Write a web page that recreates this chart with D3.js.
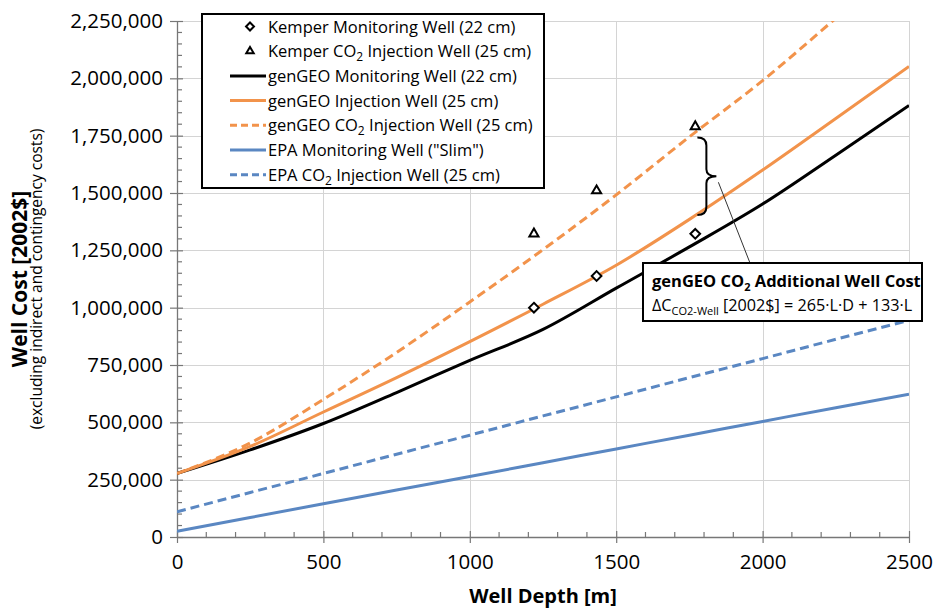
<!DOCTYPE html>
<html>
<head>
<meta charset="utf-8">
<script src="https://cdn.jsdelivr.net/npm/d3@7"></script>
<style>
  html, body { margin: 0; padding: 0; background: #fff; }
  svg { display: block; }
  text { font-family: "Open Sans", Lato, "Liberation Sans", sans-serif; fill: #000; }
</style>
</head>
<body>
<svg id="chart" width="935" height="610"></svg>
<script>
// Well depth grid [m] for the cost curves
const depthGrid = [0, 250, 500, 750, 1000, 1250, 1500, 1750, 2000, 2250, 2500];

// genGEO cost curves [2002$]
const genGeoMonitoring   = [277000, 380000, 495000, 630000, 770000, 905000, 1085000, 1265000, 1452000, 1665000, 1882000];
const genGeoInjection    = [277000, 395000, 545000, 695000, 852000, 1015000, 1185000, 1385000, 1600000, 1825000, 2052000];
const genGeoCO2Injection = [277000, 410000, 600000, 805000, 1025000, 1253000, 1492000, 1745000, 1990000, 2262000, 2540000];

// EPA cost curves [2002$]
const epaMonitoring   = [25000, 85000, 145000, 205000, 264000, 324000, 384000, 444000, 504000, 564000, 623000];
const epaCO2Injection = [110000, 194000, 277000, 361000, 444000, 528000, 611000, 695000, 778000, 862000, 945000];

// Kemper project wells
const kemperDepths     = [1219, 1433, 1770];
const kemperMonitoring = [1000000, 1138000, 1322000];
const kemperCO2        = [1322000, 1510000, 1790000];

// Axis ticks
const xTicks = [0, 500, 1000, 1500, 2000, 2500];
const yTicks = [0, 250000, 500000, 750000, 1000000, 1250000, 1500000, 1750000, 2000000, 2250000];

const orange = "#F2934B";
const blue = "#5A87C2";

const svg = d3.select("#chart");
const margin = { left: 177, right: 26, top: 21, bottom: 73 };
const W = 935, H = 610;

const x = d3.scaleLinear().domain([0, 2500]).range([margin.left, W - margin.right]);
const y = d3.scaleLinear().domain([0, 2250000]).range([H - margin.bottom, margin.top]);

svg.append("defs").append("clipPath").attr("id", "plotClip")
  .append("rect")
  .attr("x", x(0)).attr("y", y(2250000))
  .attr("width", x(2500) - x(0)).attr("height", y(0) - y(2250000));

// Gridlines
const grid = svg.append("g").attr("stroke", "#d4d4d4").attr("stroke-width", 1);
grid.selectAll("line.h").data(yTicks.filter(d => d > 0)).join("line")
  .attr("x1", x(0)).attr("x2", x(2500))
  .attr("y1", d => Math.round(y(d)) + 0.5).attr("y2", d => Math.round(y(d)) + 0.5);
grid.selectAll("line.v").data(xTicks.filter(d => d > 0)).join("line")
  .attr("y1", y(0)).attr("y2", y(2250000))
  .attr("x1", d => Math.round(x(d)) + 0.5).attr("x2", d => Math.round(x(d)) + 0.5);

// Axes
const axisColor = "#777";
const xAxis = svg.append("g").attr("transform", `translate(0,${y(0)})`)
  .call(d3.axisBottom(x).tickValues(xTicks).tickFormat(d3.format("d")).tickSizeInner(6).tickSizeOuter(0).tickPadding(11));
const yAxis = svg.append("g").attr("transform", `translate(${x(0)},0)`)
  .call(d3.axisLeft(y).tickValues(yTicks).tickFormat(d3.format(",")).tickSizeInner(7).tickSizeOuter(0).tickPadding(7));

[xAxis, yAxis].forEach(a => {
  a.select(".domain").attr("stroke", axisColor).attr("stroke-width", 1.3);
  a.selectAll(".tick line").attr("stroke", axisColor).attr("stroke-width", 1.2);
  a.selectAll(".tick text").attr("font-family", "'Open Sans', sans-serif").attr("font-size", 20.5).attr("fill", "#000");
});
// major ticks also poke inside the plot
xAxis.selectAll(".tick").append("line").attr("y1", 0).attr("y2", -6).attr("stroke", axisColor).attr("stroke-width", 1.2);
yAxis.selectAll(".tick").append("line").attr("x1", 0).attr("x2", 6).attr("stroke", axisColor).attr("stroke-width", 1.2);

// Minor ticks
const minorX = d3.range(100, 2500, 100).filter(d => d % 500 !== 0);
const minorY = d3.range(50000, 2250000, 50000).filter(d => d % 250000 !== 0);
svg.append("g").selectAll("line").data(minorX).join("line")
  .attr("x1", d => x(d)).attr("x2", d => x(d))
  .attr("y1", y(0)).attr("y2", y(0) - 5)
  .attr("stroke", axisColor).attr("stroke-width", 1.2);
svg.append("g").selectAll("line").data(minorY).join("line")
  .attr("x1", x(0)).attr("x2", x(0) + 5)
  .attr("y1", d => y(d)).attr("y2", d => y(d))
  .attr("stroke", axisColor).attr("stroke-width", 1.2);

// Axis titles
svg.append("text")
  .attr("x", (x(0) + x(2500)) / 2).attr("y", 603)
  .attr("text-anchor", "middle").attr("font-size", 20).attr("font-weight", "bold")
  .text("Well Depth [m]");
const yMid = (y(0) + y(2250000)) / 2;
svg.append("text")
  .attr("transform", `translate(27,${yMid}) rotate(-90)`)
  .attr("text-anchor", "middle").attr("font-size", 21).attr("font-weight", "bold")
  .text("Well Cost [2002$]");
svg.append("text")
  .attr("transform", `translate(42,${yMid}) rotate(-90)`)
  .attr("text-anchor", "middle").attr("font-size", 15.5)
  .text("(excluding indirect and contingency costs)");

// Cost curves
const series = [
  { values: epaMonitoring, color: blue, dash: null },
  { values: epaCO2Injection, color: blue, dash: "9,5" },
  { values: genGeoCO2Injection, color: orange, dash: "9,5" },
  { values: genGeoMonitoring, color: "#000", dash: null },
  { values: genGeoInjection, color: orange, dash: null }
];
const line = d3.line()
  .x(d => x(d[0])).y(d => y(d[1]))
  .curve(d3.curveMonotoneX);
const curves = svg.append("g").attr("clip-path", "url(#plotClip)");
series.forEach(s => {
  curves.append("path")
    .datum(depthGrid.map((d, i) => [d, s.values[i]]))
    .attr("d", line)
    .attr("fill", "none")
    .attr("stroke", s.color)
    .attr("stroke-width", 3)
    .attr("stroke-dasharray", s.dash);
});

// Kemper markers
const diamond = d3.symbol().type(d3.symbolDiamond2).size(60);
const triangle = d3.symbol().type(d3.symbolTriangle2).size(60);
svg.append("g").selectAll("path").data(kemperDepths).join("path")
  .attr("transform", (d, i) => `translate(${x(d)},${y(kemperMonitoring[i])})`)
  .attr("d", diamond).attr("fill", "#fff").attr("stroke", "#000").attr("stroke-width", 2);
svg.append("g").selectAll("path").data(kemperDepths).join("path")
  .attr("transform", (d, i) => `translate(${x(d)},${y(kemperCO2[i])})`)
  .attr("d", triangle).attr("fill", "#fff").attr("stroke", "#000").attr("stroke-width", 2);

// Brace marking the CO2 well cost increment at the deepest Kemper well
const braceX = x(1808), braceTop = y(1742000), braceBot = y(1404000);
const braceMid = (braceTop + braceBot) / 2;
svg.append("path")
  .attr("d", `M${braceX - 9},${braceTop} Q${braceX},${braceTop} ${braceX},${braceTop + 8}
              L${braceX},${braceMid - 7} Q${braceX},${braceMid} ${braceX + 10},${braceMid}
              Q${braceX},${braceMid} ${braceX},${braceMid + 7}
              L${braceX},${braceBot - 8} Q${braceX},${braceBot} ${braceX - 9},${braceBot}`)
  .attr("fill", "none").attr("stroke", "#000").attr("stroke-width", 2);
svg.append("line")
  .attr("x1", braceX + 12).attr("y1", braceMid + 6)
  .attr("x2", 750).attr("y2", 263)
  .attr("stroke", "#333").attr("stroke-width", 1);

// Annotation box
const ann = svg.append("g");
ann.append("rect").attr("x", 643).attr("y", 263).attr("width", 279).attr("height", 58)
  .attr("fill", "#fff").attr("stroke", "#000").attr("stroke-width", 2);
const t1 = ann.append("text").attr("x", 652).attr("y", 287)
  .attr("font-family", "Lato, sans-serif").attr("font-size", 16.5).attr("font-weight", "bold");
t1.append("tspan").text("genGEO CO");
t1.append("tspan").attr("font-size", 11).attr("dy", 4).text("2");
t1.append("tspan").attr("dy", -4).text(" Additional Well Cost");
const t2 = ann.append("text").attr("x", 652).attr("y", 311)
  .attr("font-family", "Lato, sans-serif").attr("font-size", 16.2);
t2.append("tspan").text("\u0394C");
t2.append("tspan").attr("font-size", 11).attr("dy", 4).text("CO2-Well");
t2.append("tspan").attr("dy", -4).text(" [2002$] = 265\u00B7L\u00B7D + 133\u00B7L");

// Legend
const legend = svg.append("g");
legend.append("rect").attr("x", 202).attr("y", 14).attr("width", 342).attr("height", 174)
  .attr("fill", "#fff").attr("stroke", "#000").attr("stroke-width", 2);
const legendItems = [
  { type: "diamond", label: ["Kemper Monitoring Well (22 cm)"] },
  { type: "triangle", label: ["Kemper CO", "2", " Injection Well (25 cm)"] },
  { type: "line", color: "#000", dash: null, label: ["genGEO Monitoring Well (22 cm)"] },
  { type: "line", color: orange, dash: null, label: ["genGEO Injection Well (25 cm)"] },
  { type: "line", color: orange, dash: "7,4", label: ["genGEO CO", "2", " Injection Well (25 cm)"] },
  { type: "line", color: blue, dash: null, label: ["EPA Monitoring Well (\"Slim\")"] },
  { type: "line", color: blue, dash: "7,4", label: ["EPA CO", "2", " Injection Well (25 cm)"] }
];
legendItems.forEach((it, i) => {
  const cy = 26.5 + i * 24.7;
  if (it.type === "diamond") {
    legend.append("path").attr("transform", `translate(250,${cy})`)
      .attr("d", d3.symbol().type(d3.symbolDiamond2).size(40)).attr("fill", "#fff").attr("stroke", "#000").attr("stroke-width", 2);
  } else if (it.type === "triangle") {
    legend.append("path").attr("transform", `translate(250,${cy})`)
      .attr("d", d3.symbol().type(d3.symbolTriangle2).size(40)).attr("fill", "#fff").attr("stroke", "#000").attr("stroke-width", 2);
  } else {
    legend.append("line").attr("x1", 230).attr("x2", 266).attr("y1", cy).attr("y2", cy)
      .attr("stroke", it.color).attr("stroke-width", 3).attr("stroke-dasharray", it.dash);
  }
  const t = legend.append("text").attr("x", 268).attr("y", cy + 6).attr("font-size", 16.5);
  t.append("tspan").text(it.label[0]);
  if (it.label.length > 1) {
    t.append("tspan").attr("font-size", 12).attr("dy", 4).text(it.label[1]);
    t.append("tspan").attr("dy", -4).text(it.label[2]);
  }
});
</script>
</body>
</html>
